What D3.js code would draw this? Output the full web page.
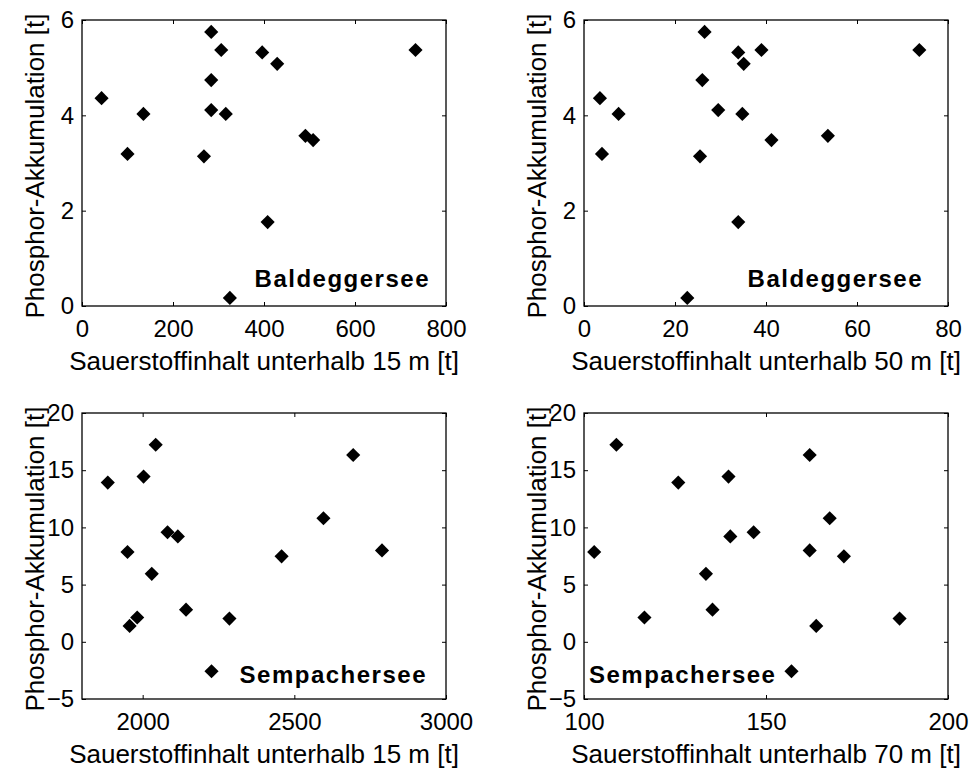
<!DOCTYPE html>
<html>
<head>
<meta charset="utf-8">
<script src="https://cdn.jsdelivr.net/npm/d3@7"></script>
<style>
  body { margin: 0; background: #fff; }
  svg text { font-family: "Liberation Sans", Arial, sans-serif; fill: #000; }
</style>
</head>
<body>
<div id="chart"></div>
<script>
// Baldeggersee: phosphorus accumulation vs. oxygen content
const baldP     = [4.36, 3.19, 4.03, 3.14, 5.75, 4.74, 4.11, 5.37, 4.03, 0.17, 5.32, 1.76, 5.08, 3.57, 3.48, 5.37];
const baldO2_15 = [43, 100, 135, 268, 284, 284, 284, 306, 316, 325, 396, 408, 429, 491, 508, 733];
const baldO2_50 = [3.5, 3.95, 7.6, 25.5, 26.5, 26.0, 29.5, 39.0, 34.8, 22.7, 33.9, 33.9, 35.1, 53.6, 41.2, 73.7];

// Sempachersee
const sempP     = [13.92, 7.85, 1.39, 2.12, 14.44, 5.94, 17.22, 9.58, 9.21, 2.81, -2.57, 2.03, 7.47, 10.80, 16.33, 7.99];
const sempO2_15 = [1885, 1950, 1957, 1982, 2003, 2030, 2043, 2082, 2116, 2143, 2227, 2286, 2458, 2596, 2694, 2789];
const sempO2_70 = [125.9, 102.8, 163.8, 116.6, 139.7, 133.5, 108.9, 146.6, 140.2, 135.3, 157.0, 186.7, 171.4, 167.5, 162.0, 162.0];

const yTicksBald = [0, 2, 4, 6];
const yTicksSemp = [-5, 0, 5, 10, 15, 20];
const yLabel = "Phosphor-Akkumulation [t]";

const width = 972, height = 773;

const panels = [
  { left: 82,  top: 20,  xs: baldO2_15, ys: baldP, xDomain: [0, 800],     xTicks: [0, 200, 400, 600, 800],
    yDomain: [0, 6],   yTicks: yTicksBald, xLabel: "Sauerstoffinhalt unterhalb 15 m [t]",
    lake: "Baldeggersee", lakeX: -16, lakeAnchor: "end" },
  { left: 584, top: 20,  xs: baldO2_50, ys: baldP, xDomain: [0, 80],      xTicks: [0, 20, 40, 60, 80],
    yDomain: [0, 6],   yTicks: yTicksBald, xLabel: "Sauerstoffinhalt unterhalb 50 m [t]",
    lake: "Baldeggersee", lakeX: -25, lakeAnchor: "end" },
  { left: 82,  top: 413, xs: sempO2_15, ys: sempP, xDomain: [1800, 3000], xTicks: [2000, 2500, 3000],
    yDomain: [-5, 20], yTicks: yTicksSemp, xLabel: "Sauerstoffinhalt unterhalb 15 m [t]",
    lake: "Sempachersee", lakeX: -19, lakeAnchor: "end" },
  { left: 584, top: 413, xs: sempO2_70, ys: sempP, xDomain: [100, 200],   xTicks: [100, 150, 200],
    yDomain: [-5, 20], yTicks: yTicksSemp, xLabel: "Sauerstoffinhalt unterhalb 70 m [t]",
    lake: "Sempachersee", lakeX: 5, lakeAnchor: "start" }
];
const pw = 364, ph = 286;

// square diamond marker
const diamond = {
  draw(ctx, size) {
    const r = Math.sqrt(size / 2);
    ctx.moveTo(0, -r); ctx.lineTo(r, 0); ctx.lineTo(0, r); ctx.lineTo(-r, 0); ctx.closePath();
  }
};

const svg = d3.select("#chart").append("svg")
    .attr("width", width)
    .attr("height", height);

svg.append("rect").attr("width", width).attr("height", height).attr("fill", "#fff");

panels.forEach(p => {
  const g = svg.append("g").attr("transform", `translate(${p.left},${p.top})`);

  const x = d3.scaleLinear().domain(p.xDomain).range([0, pw]);
  const y = d3.scaleLinear().domain(p.yDomain).range([ph, 0]);

  // axes with inside ticks
  const xAxis = g.append("g").attr("transform", `translate(0,${ph})`)
      .call(d3.axisBottom(x).tickValues(p.xTicks).tickSize(-4).tickPadding(14).tickFormat(d3.format("d")));
  g.append("g").call(d3.axisTop(x).tickValues(p.xTicks).tickSize(-4).tickFormat(""));
  const yAxis = g.append("g")
      .call(d3.axisLeft(y).tickValues(p.yTicks).tickSize(-4).tickPadding(8).tickFormat(d3.format("d")));
  g.append("g").attr("transform", `translate(${pw},0)`)
      .call(d3.axisRight(y).tickValues(p.yTicks).tickSize(-4).tickFormat(""));

  g.selectAll(".domain").remove();
  g.selectAll(".tick line").attr("stroke", "#000").attr("stroke-width", 1);
  g.selectAll(".tick text").style("font-size", "24px").attr("fill", "#000");

  // box
  g.append("rect")
      .attr("width", pw).attr("height", ph)
      .attr("fill", "none").attr("stroke", "#000").attr("stroke-width", 1.3);

  // markers
  g.selectAll("path.pt")
    .data(p.xs.map((v, i) => [v, p.ys[i]]))
    .enter().append("path")
      .attr("class", "pt")
      .attr("transform", d => `translate(${x(d[0])},${y(d[1])})`)
      .attr("d", d3.symbol(diamond, 100))
      .attr("fill", "#000");

  // lake name
  g.append("text")
      .attr("x", p.lakeAnchor === "end" ? pw + p.lakeX : p.lakeX)
      .attr("y", p.top < 100 ? ph - 19 : ph - 16)
      .attr("text-anchor", p.lakeAnchor)
      .style("font-size", "24px")
      .style("font-weight", "bold")
      .style("letter-spacing", "1.5px")
      .text(p.lake);

  // axis labels
  g.append("text")
      .attr("x", pw / 2)
      .attr("y", ph + 64)
      .attr("text-anchor", "middle")
      .style("font-size", "26px")
      .text(p.xLabel);

  g.append("text")
      .attr("transform", `translate(-38,${ph / 2 + 3}) rotate(-90)`)
      .attr("text-anchor", "middle")
      .style("font-size", "26px")
      .text(yLabel);
});
</script>
</body>
</html>
